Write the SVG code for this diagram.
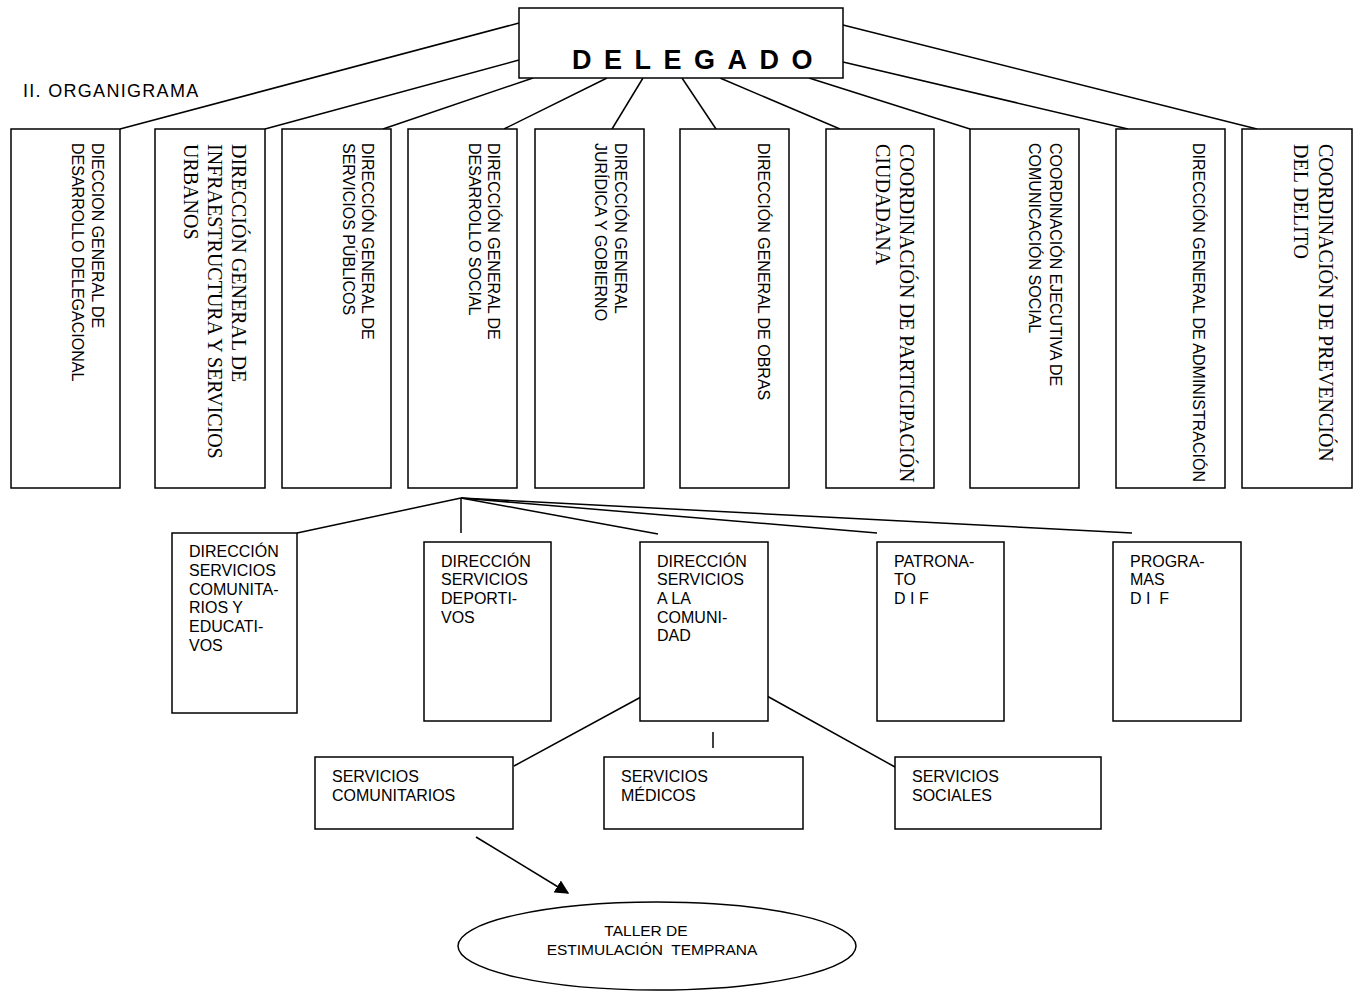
<svg xmlns="http://www.w3.org/2000/svg" width="1356" height="992" viewBox="0 0 1356 992">
<defs>
<style>
.box{fill:#fff;stroke:#000;stroke-width:1.5}
.ln{stroke:#000;stroke-width:1.5;fill:none}
.s{font-family:"Liberation Sans",Arial,sans-serif;font-size:16px;fill:#000}
.r{font-family:"Liberation Serif","Times New Roman",serif;font-size:20px;fill:#000}
.m{font-family:"Liberation Sans",Arial,sans-serif;font-size:16px;fill:#000}
.b{font-family:"Liberation Sans",Arial,sans-serif;font-size:15.5px;fill:#000}
</style>
<marker id="arr" viewBox="0 0 10 10" refX="9" refY="5" markerWidth="14" markerHeight="14" markerUnits="userSpaceOnUse" orient="auto">
<path d="M0,0 L10,5 L0,10 z" fill="#000"/>
</marker>
</defs>
<rect width="1356" height="992" fill="#fff"/>
<text x="23" y="97" font-family="Liberation Sans, Arial, sans-serif" font-size="18" letter-spacing="1.3">II. ORGANIGRAMA</text>
<g id="connectors">
<line class="ln" x1="519" y1="23" x2="120" y2="129"/>
<line class="ln" x1="519" y1="60" x2="265" y2="129"/>
<line class="ln" x1="533" y1="78" x2="383" y2="129"/>
<line class="ln" x1="607" y1="78" x2="504" y2="129"/>
<line class="ln" x1="643" y1="78" x2="612" y2="129"/>
<line class="ln" x1="682" y1="78" x2="716" y2="129"/>
<line class="ln" x1="720" y1="78" x2="840" y2="129"/>
<line class="ln" x1="809" y1="78" x2="970" y2="129"/>
<line class="ln" x1="843" y1="62" x2="1128" y2="129"/>
<line class="ln" x1="843" y1="25" x2="1257" y2="129"/>
<line class="ln" x1="461" y1="498" x2="297" y2="533"/>
<line class="ln" x1="461" y1="498" x2="461" y2="533"/>
<line class="ln" x1="461" y1="498" x2="658" y2="534"/>
<line class="ln" x1="461" y1="498" x2="877" y2="533"/>
<line class="ln" x1="461" y1="498" x2="1132" y2="533"/>
<line class="ln" x1="641" y1="697" x2="514" y2="766"/>
<line class="ln" x1="767" y1="696" x2="895" y2="767"/>
<line class="ln" x1="713" y1="732" x2="713" y2="748"/>
<line class="ln" x1="476" y1="837" x2="568" y2="893" marker-end="url(#arr)"/>
</g>
<g id="delegado">
<rect class="box" x="519" y="8" width="324" height="70"/>
<text x="572" y="69" font-family="Liberation Sans, Arial, sans-serif" font-size="27" font-weight="bold" letter-spacing="12.5">DELEGADO</text>
</g>
<g id="n1">
<rect class="box" x="11" y="129" width="109" height="359"/>
<text class="s" font-size="15" transform="translate(92,143) rotate(90)"><tspan x="0" y="0">DIECCION GENERAL DE</tspan><tspan x="0" y="20">DESARROLLO DELEGACIONAL</tspan></text>
</g>
<g id="n2">
<rect class="box" x="155" y="129" width="110" height="359"/>
<text class="r" transform="translate(232,144) rotate(90)" font-size="20.3"><tspan x="0" y="0">DIRECCIÓN GENERAL DE</tspan><tspan x="0" y="24">INFRAESTRUCTURA Y SERVICIOS</tspan><tspan x="0" y="48">URBANOS</tspan></text>
</g>
<g id="n3">
<rect class="box" x="282" y="129" width="109" height="359"/>
<text class="s" font-size="15.5" transform="translate(362,143) rotate(90)"><tspan x="0" y="0">DIRECCIÓN GENERAL DE</tspan><tspan x="0" y="19">SERVICIOS PÚBLICOS</tspan></text>
</g>
<g id="n4">
<rect class="box" x="408" y="129" width="109" height="359"/>
<text class="s" transform="translate(488,143) rotate(90)"><tspan x="0" y="0">DIRECCIÓN GENERAL DE</tspan><tspan x="0" y="19">DESARROLLO SOCIAL</tspan></text>
</g>
<g id="n5">
<rect class="box" x="535" y="129" width="109" height="359"/>
<text class="s" transform="translate(615,143) rotate(90)"><tspan x="0" y="0">DIRECCIÓN GENERAL</tspan><tspan x="0" y="20">JURÍDICA Y GOBIERNO</tspan></text>
</g>
<g id="n6">
<rect class="box" x="680" y="129" width="109" height="359"/>
<text class="s" transform="translate(758,143) rotate(90)">DIRECCIÓN GENERAL DE OBRAS</text>
</g>
<g id="n7">
<rect class="box" x="826" y="129" width="108" height="359"/>
<text class="r" font-size="19.8" transform="translate(900,144) rotate(90)"><tspan x="0" y="0">COORDINACIÓN DE PARTICIPACIÓN</tspan><tspan x="0" y="24">CIUDADANA</tspan></text>
</g>
<g id="n8">
<rect class="box" x="970" y="129" width="109" height="359"/>
<text class="s" transform="translate(1050,143) rotate(90)"><tspan x="0" y="0">COORDINACIÓN EJECUTIVA DE</tspan><tspan x="0" y="21">COMUNICACIÓN SOCIAL</tspan></text>
</g>
<g id="n9">
<rect class="box" x="1116" y="129" width="109" height="359"/>
<text class="s" transform="translate(1193,143) rotate(90)">DIRECCIÓN GENERAL DE ADMINISTRACIÓN</text>
</g>
<g id="n10">
<rect class="box" x="1242" y="129" width="110" height="359"/>
<text class="r" transform="translate(1319,144) rotate(90)"><tspan x="0" y="0">COORDINACIÓN DE PREVENCIÓN</tspan><tspan x="0" y="25">DEL DELITO</tspan></text>
</g>
<g id="s1">
<rect class="box" x="172" y="533" width="125" height="180"/>
<text class="m"><tspan x="189" y="557">DIRECCIÓN</tspan><tspan x="189" y="576">SERVICIOS</tspan><tspan x="189" y="595">COMUNITA-</tspan><tspan x="189" y="613">RIOS Y</tspan><tspan x="189" y="632">EDUCATI-</tspan><tspan x="189" y="651">VOS</tspan></text>
</g>
<g id="s2">
<rect class="box" x="424" y="542" width="127" height="179"/>
<text class="m"><tspan x="441" y="567">DIRECCIÓN</tspan><tspan x="441" y="585">SERVICIOS</tspan><tspan x="441" y="604">DEPORTI-</tspan><tspan x="441" y="623">VOS</tspan></text>
</g>
<g id="s3">
<rect class="box" x="640" y="542" width="128" height="179"/>
<text class="m"><tspan x="657" y="567">DIRECCIÓN</tspan><tspan x="657" y="585">SERVICIOS</tspan><tspan x="657" y="604">A LA</tspan><tspan x="657" y="623">COMUNI-</tspan><tspan x="657" y="641">DAD</tspan></text>
</g>
<g id="s4">
<rect class="box" x="877" y="542" width="127" height="179"/>
<text class="m"><tspan x="894" y="567">PATRONA-</tspan><tspan x="894" y="585">TO</tspan><tspan x="894" y="604">D I F</tspan></text>
</g>
<g id="s5">
<rect class="box" x="1113" y="542" width="128" height="179"/>
<text class="m" xml:space="preserve"><tspan x="1130" y="567">PROGRA-</tspan><tspan x="1130" y="585">MAS</tspan><tspan x="1130" y="604">D I  F</tspan></text>
</g>
<g id="t1">
<rect class="box" x="315" y="757" width="198" height="72"/>
<text class="m"><tspan x="332" y="782">SERVICIOS</tspan><tspan x="332" y="801">COMUNITARIOS</tspan></text>
</g>
<g id="t2">
<rect class="box" x="604" y="757" width="199" height="72"/>
<text class="m"><tspan x="621" y="782">SERVICIOS</tspan><tspan x="621" y="801">MÉDICOS</tspan></text>
</g>
<g id="t3">
<rect class="box" x="895" y="757" width="206" height="72"/>
<text class="m"><tspan x="912" y="782">SERVICIOS</tspan><tspan x="912" y="801">SOCIALES</tspan></text>
</g>
<g id="taller">
<ellipse class="box" cx="657" cy="946" rx="199" ry="44"/>
<text class="b" xml:space="preserve" text-anchor="middle"><tspan x="646" y="936">TALLER DE</tspan><tspan x="652" y="955">ESTIMULACIÓN  TEMPRANA</tspan></text>
</g>
</svg>
